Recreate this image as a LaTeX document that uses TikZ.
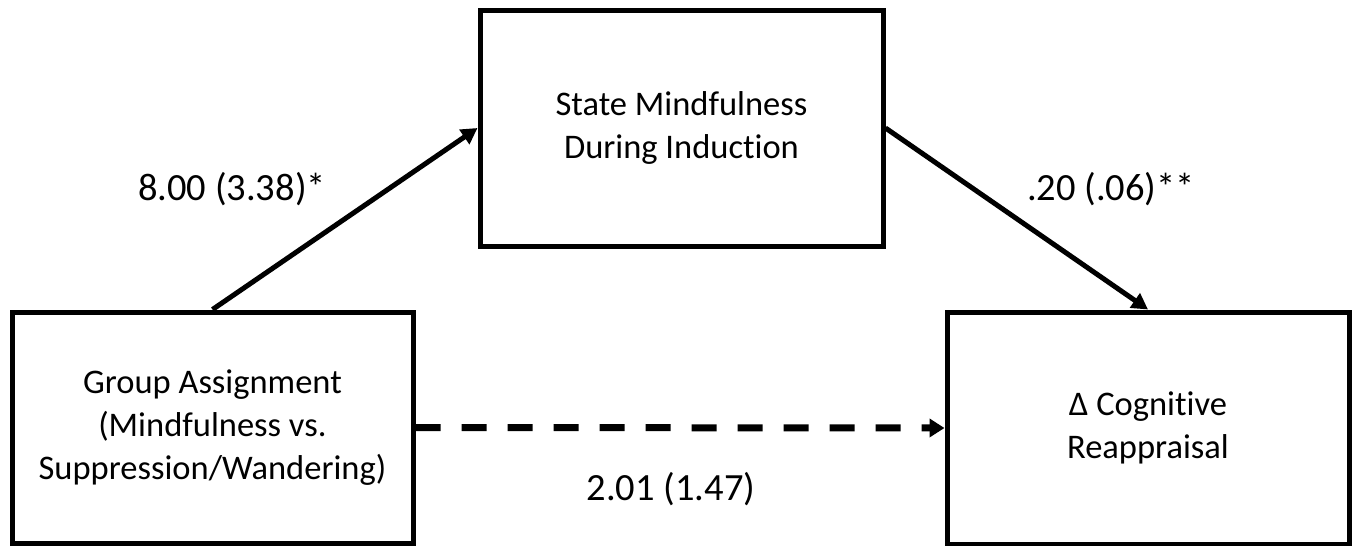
\documentclass[tikz,border=0pt]{standalone}
\usepackage{fontspec}
\setmainfont{Carlito}[Ligatures={NoCommon,NoRequired,NoContextual}]
\usetikzlibrary{arrows.meta}
\tikzset{
  box/.style={draw=black, line width=5pt, fill=white, align=center, inner sep=0pt,
    font=\fontsize{34.5}{43}\selectfont},
  lab/.style={anchor=base, inner sep=0pt, font=\fontsize{38.5}{46}\selectfont},
  path/.style={line width=5pt, -{Triangle[length=16pt,width=17pt]}},
  dpath/.style={line width=7pt, dash pattern=on 25pt off 21pt, -{Triangle[length=15pt,width=18pt]}},
}
\begin{document}
\begin{tikzpicture}[x=1pt,y=-1pt]
\useasboundingbox (0,0) rectangle (1355,546);
\node[box, minimum width=401pt, minimum height=231pt] (g) at (212.5,427.5)
  {Group Assignment\\(Mindfulness vs.\\Suppression/Wandering)};
\node[box, minimum width=403pt, minimum height=236pt] (m) at (681.5,128)
  {State Mindfulness\\During Induction};
\node[box, minimum width=402pt, minimum height=232pt] (r) at (1148,428)
  {Δ Cognitive\\Reappraisal};
\draw[path] (g.north) -- (m.west);
\draw[path] (m.east) -- (r.north);
\draw[dpath] (g.east) -- (r.west);
\node[lab] (la) at (232,200) {8.00 (3.38)*};
\node[lab] (lb) at (1111,200) {.20 (.06)**};
\node[lab] (lc) at (671,500) {2.01 (1.47)};
\end{tikzpicture}
\end{document}
